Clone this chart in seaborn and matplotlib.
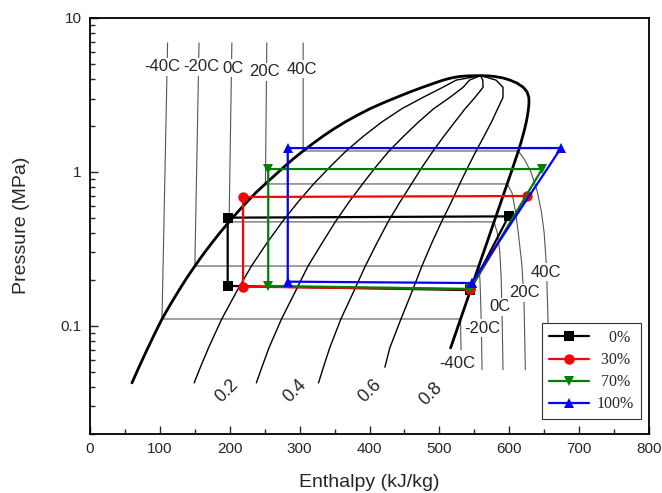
import matplotlib
matplotlib.use("Agg")
import matplotlib.pyplot as plt
from matplotlib.lines import Line2D
from matplotlib.ticker import LogLocator, MultipleLocator, NullFormatter
import seaborn as sns

# ---------------- saturation dome (propane), P in MPa, h in kJ/kg ----------------
liq_p = [0.0427, 0.055, 0.070, 0.088, 0.111, 0.137, 0.168, 0.203, 0.245, 0.292,
         0.345, 0.405, 0.474, 0.551, 0.637, 0.733, 0.836, 0.95, 1.08, 1.22,
         1.369, 1.53, 1.71, 1.90, 2.11, 2.33, 2.58, 2.81, 3.05, 3.31,
         3.55, 3.78, 3.95, 4.08, 4.17, 4.21, 4.225]
liq_h = [60.0, 70.8, 81.5, 92.0, 103.0, 114.6, 126.4, 137.8, 150.0, 162.0,
         174.1, 186.2, 199.0, 211.5, 224.3, 237.2, 250.8, 264.2, 277.8, 291.2,
         305.0, 319.0, 333.6, 348.6, 365.0, 382.0, 401.1, 419.5, 438.5, 458.0,
         476.0, 493.0, 505.5, 517.0, 529.0, 541.0, 559.0]
vap_p = [4.225, 4.21, 4.17, 4.08, 3.95, 3.78, 3.55, 3.31, 3.05, 2.81,
         2.58, 2.33, 2.11, 1.90, 1.71, 1.53, 1.369, 1.22, 1.08, 0.95,
         0.836, 0.733, 0.637, 0.551, 0.474, 0.405, 0.345, 0.292, 0.245, 0.203,
         0.168, 0.137, 0.111, 0.090, 0.072]
vap_h = [559.0, 569.0, 579.0, 591.0, 601.0, 611.0, 620.0, 625.5, 628.0, 628.2,
         627.5, 626.1, 624.3, 622.0, 619.3, 616.3, 613.0, 609.3, 605.4, 601.2,
         597.0, 592.6, 588.0, 583.2, 578.2, 573.0, 567.8, 562.2, 556.4, 550.2,
         544.0, 537.3, 530.3, 523.4, 516.0]

# ---------------- constant-quality lines ----------------
qual_p = [0.0427, 0.054, 0.072, 0.111, 0.168, 0.245, 0.345, 0.474, 0.637, 0.836,
          1.08, 1.369, 1.71, 2.11, 2.58, 3.05, 3.55, 3.95, 4.225]
q02_h = [149, 158, 169.5, 188.5, 210, 231, 253, 275, 297.5, 320,
         343.5, 366.5, 391.5, 417.5, 446.5, 476.5, 505, 524, 559]
q04_h = [238, 246, 256, 274, 294, 312, 332, 351, 370.5, 390,
         409, 428, 449, 470, 492, 515, 534, 543, 559]
q06_h = [327, 334, 343, 359, 377.5, 394, 410.5, 426.5, 443.5, 460,
         475.5, 491, 506.5, 522, 537, 551, 562.5, 562, 559]
q08_p = qual_p[1:]
q08_h = [422, 429, 445, 461, 475, 489, 503, 517, 529,
         541, 552.5, 564, 574.5, 583.5, 591, 591, 581, 559]
qual_names = ["0.2", "0.4", "0.6", "0.8"]
qual_label_h = [196, 293, 400, 488]
qual_label_p = [0.0378, 0.0378, 0.0378, 0.0362]

# ---------------- isotherms (liquid, two-phase, superheated) ----------------
iso_names = ["-40C", "-20C", "0C", "20C", "40C"]
iso_m40_h = [111, 103, 530.3, 530.5, 531]
iso_m40_p = [6.9, 0.111, 0.111, 0.09, 0.07]
iso_m20_h = [156, 150, 556.4, 558, 559, 560, 561]
iso_m20_p = [6.9, 0.245, 0.245, 0.2, 0.15, 0.1, 0.052]
iso_0_h = [203, 199, 578.2, 583, 586.5, 588.5, 590, 591]
iso_0_p = [6.9, 0.474, 0.474, 0.4, 0.3, 0.2, 0.1, 0.052]
iso_20_h = [253, 251, 597, 604, 609, 613, 618, 621, 623]
iso_20_p = [6.9, 0.836, 0.836, 0.73, 0.55, 0.4, 0.25, 0.15, 0.052]
iso_40_h = [305, 305, 613, 622, 631, 640, 646, 650, 653, 655, 657]
iso_40_p = [6.9, 1.369, 1.369, 1.2, 1.0, 0.75, 0.55, 0.4, 0.25, 0.13, 0.052]
iso_top_label_h = [104, 159, 205, 249, 303]
iso_top_label_p = [4.81, 4.81, 4.73, 4.46, 4.66]
iso_low_label_h = [525, 561, 587, 622, 652]
iso_low_label_p = [0.0567, 0.097, 0.133, 0.164, 0.224]

# ---------------- refrigeration cycles (evaporator out -> compressor -> condenser -> valve) --
cycle_names = ["0%", "30%", "70%", "100%"]
cycle_h = [
    [544, 599, 197, 197, 544],
    [544, 625, 219, 219, 544],
    [544, 647, 255, 255, 544],
    [546, 674, 283, 283, 546],
]
cycle_p = [
    [0.171, 0.515, 0.505, 0.182, 0.171],
    [0.173, 0.698, 0.688, 0.180, 0.173],
    [0.174, 1.045, 1.045, 0.182, 0.174],
    [0.190, 1.43, 1.43, 0.194, 0.190],
]
cycle_colors = ["black", "#ff0000", "#008000", "#0000ff"]
cycle_markers = ["s", "o", "v", "^"]

# ---------------- figure ----------------
sns.set_style("ticks")
plt.rcParams["font.family"] = ["Liberation Sans", "DejaVu Sans"]

fig = plt.figure(figsize=(6.62, 4.93), dpi=100)
ax = fig.add_axes([0.1360, 0.1205, 0.8444, 0.8430])
ax.set_yscale("log")

iso_lines = [(iso_m40_h, iso_m40_p), (iso_m20_h, iso_m20_p), (iso_0_h, iso_0_p),
             (iso_20_h, iso_20_p), (iso_40_h, iso_40_p)]
for hh, pp in iso_lines:
    sns.lineplot(x=hh, y=pp, sort=False, estimator=None, color="#555555",
                 linewidth=0.8, ax=ax, zorder=1)

for hh, pp in [(q02_h, qual_p), (q04_h, qual_p), (q06_h, qual_p), (q08_h, q08_p)]:
    sns.lineplot(x=hh, y=pp, sort=False, estimator=None, color="black",
                 linewidth=1.0, ax=ax, zorder=1.5)

sns.lineplot(x=liq_h + vap_h, y=liq_p + vap_p, sort=False, estimator=None,
             color="black", linewidth=2.0, ax=ax, zorder=2)

label_box = dict(facecolor="white", edgecolor="none", pad=1.0)
for name, h, p in zip(iso_names, iso_top_label_h, iso_top_label_p):
    ax.text(h, p, name, fontsize=12, ha="center", va="center", bbox=label_box, zorder=3)
for name, h, p in zip(iso_names, iso_low_label_h, iso_low_label_p):
    ax.text(h, p, name, fontsize=12, ha="center", va="center", bbox=label_box, zorder=3)
for name, h, p in zip(qual_names, qual_label_h, qual_label_p):
    ax.text(h, p, name, fontsize=13, ha="center", va="center", rotation=45, zorder=3)

for hh, pp, c, m in zip(cycle_h, cycle_p, cycle_colors, cycle_markers):
    sns.lineplot(x=hh, y=pp, sort=False, estimator=None, color=c, linewidth=1.6,
                 marker=m, markersize=7.5, markeredgewidth=0, ax=ax, zorder=4)

# axes
ax.set_xlim(0, 800)
ax.set_ylim(0.02, 10)
ax.xaxis.set_major_locator(MultipleLocator(100))
ax.xaxis.set_minor_locator(MultipleLocator(50))
ax.set_yticks([0.1, 1, 10])
ax.set_yticklabels(["0.1", "1", "10"])
ax.yaxis.set_minor_locator(LogLocator(base=10, subs=[2, 3, 4, 5, 6, 7, 8, 9]))
ax.yaxis.set_minor_formatter(NullFormatter())
ax.tick_params(which="both", direction="in", labelsize=11, width=1.0, pad=6)
ax.tick_params(which="major", length=6)
ax.tick_params(which="minor", length=3.5)
for s in ax.spines.values():
    s.set_linewidth(1.3)
    s.set_color("black")

ax.set_xlabel("Enthalpy (kJ/kg)", fontsize=14, labelpad=13)
ax.set_ylabel("Pressure (MPa)", fontsize=14, labelpad=22)

handles = [Line2D([], [], color=c, marker=m, markersize=7.5, markeredgewidth=0, linewidth=1.6)
           for c, m in zip(cycle_colors, cycle_markers)]
leg_labels = ["   " + cycle_names[0], " " + cycle_names[1], " " + cycle_names[2], cycle_names[3]]
leg = ax.legend(handles, leg_labels, loc="lower right", bbox_to_anchor=(0.986, 0.034),
                borderaxespad=0, frameon=True, fancybox=False, framealpha=1,
                edgecolor="#333333", numpoints=1, handlelength=2.5, handletextpad=0.5,
                labelspacing=0.38, borderpad=0.45,
                prop={"family": ["Liberation Serif", "DejaVu Serif"], "size": 11.5})
leg.get_frame().set_linewidth(0.8)
leg.set_zorder(6)

fig.savefig("out.png", dpi=100)
